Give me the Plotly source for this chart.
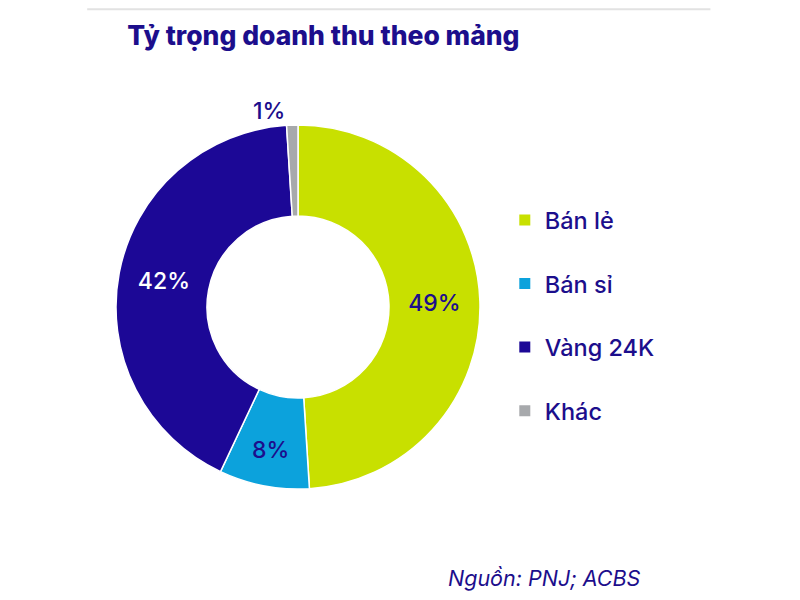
import plotly.graph_objects as go

categories = ["Bán lẻ", "Bán sỉ", "Vàng 24K", "Khác"]
shares = [49, 8, 42, 1]
colors = ["#C8E000", "#0CA2DC", "#1C0896", "#A7A9AC"]
label_colors = ["#1C0E8C", "#1C0E8C", "#FFFFFF", "#1C0E8C"]
label_positions = ["inside", "inside", "inside", "outside"]

NAVY = "#1C0E8C"
FONT = "Inter"

fig = go.Figure()
fig.add_trace(go.Pie(
    labels=categories,
    values=shares,
    hole=0.5,
    sort=False,
    direction="clockwise",
    rotation=0,
    marker=dict(colors=colors, line=dict(color="white", width=1.5)),
    texttemplate="%{value}%",
    textposition=label_positions,
    insidetextorientation="horizontal",
    textfont=dict(color=label_colors, size=23, family=FONT, weight=500),
    outsidetextfont=dict(color=NAVY, size=23, family=FONT, weight=500),
    showlegend=False,
    domain=dict(x=[0.135, 0.59], y=[0.1983, 0.805]),
))

for i, (cat, col) in enumerate(zip(categories, colors)):
    fig.add_trace(go.Scatter(
        x=[None], y=[None], mode="markers", name=cat,
        marker=dict(symbol="square", size=11, color=col),
        legendgroup=f"g{i}", showlegend=True,
    ))

fig.update_layout(
    width=800, height=600,
    margin=dict(l=0, r=0, t=0, b=0),
    paper_bgcolor="white", plot_bgcolor="white",
    xaxis=dict(visible=False), yaxis=dict(visible=False),
    title=dict(text="Tỷ trọng doanh thu theo mảng", x=0.149, xanchor="left",
               y=0.953, yanchor="middle",
               font=dict(family=FONT, size=26.5, color=NAVY, weight=800)),
    legend=dict(x=0.621, y=0.683, xanchor="left", yanchor="top",
                font=dict(family=FONT, size=23.5, color=NAVY, weight=500),
                tracegroupgap=30, itemwidth=30, bgcolor="rgba(0,0,0,0)"),
    annotations=[dict(text="<i>Nguồn: PNJ; ACBS</i>", xref="paper", yref="paper",
                      x=0.794, y=0.05, xanchor="right", yanchor="middle", showarrow=False,
                      font=dict(family=FONT, size=21.5, color=NAVY))],
    shapes=[dict(type="line", xref="paper", yref="paper", x0=0.099, x1=0.878, y0=0.998, y1=0.998,
                 line=dict(color="#E2E2E2", width=2))],
)

fig.write_html("out.html")
